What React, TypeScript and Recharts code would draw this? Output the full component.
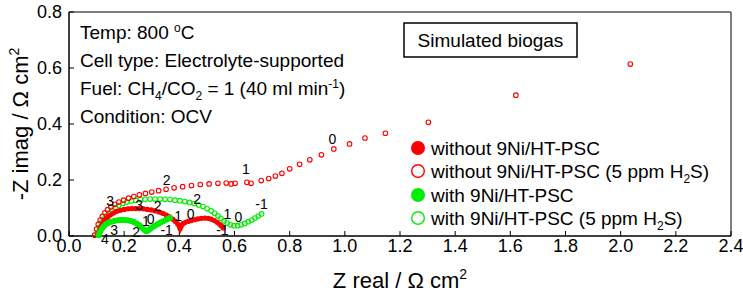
import React from 'react';
import { ScatterChart, Scatter, XAxis, YAxis, ReferenceArea, ReferenceDot, Customized } from 'recharts';

const FONT = '"Liberation Sans", Arial, sans-serif';
const RED = '#ff0000';
const GREEN = '#00ee00';

const xTicks = [0, 0.2, 0.4, 0.6, 0.8, 1.0, 1.2, 1.4, 1.6, 1.8, 2.0, 2.2, 2.4];
const yTicks = [0, 0.2, 0.4, 0.6, 0.8];

// without 9Ni/HT-PSC (filled red)
const redFilled: [number, number][] = [
  [0.105, 0.005], [0.110, 0.020], [0.116, 0.034], [0.123, 0.047], [0.131, 0.058], [0.140, 0.067],
  [0.150, 0.075], [0.161, 0.082], [0.173, 0.088], [0.186, 0.092], [0.200, 0.095], [0.214, 0.097],
  [0.228, 0.098], [0.242, 0.098], [0.256, 0.098], [0.270, 0.097], [0.284, 0.095], [0.298, 0.093],
  [0.312, 0.090], [0.326, 0.086], [0.340, 0.081], [0.353, 0.075], [0.365, 0.068], [0.376, 0.060],
  [0.386, 0.052], [0.394, 0.043], [0.400, 0.034], [0.403, 0.026], [0.407, 0.036], [0.413, 0.044],
  [0.422, 0.049], [0.432, 0.052], [0.443, 0.055], [0.455, 0.058], [0.467, 0.061], [0.480, 0.063],
  [0.493, 0.064], [0.505, 0.063], [0.516, 0.060], [0.527, 0.055], [0.537, 0.049], [0.546, 0.042],
  [0.553, 0.036], [0.559, 0.029],
];

// without 9Ni/HT-PSC (5 ppm H2S) (open red)
const redOpen: [number, number][] = [
  [0.093, 0.003], [0.100, 0.025], [0.106, 0.042], [0.113, 0.057], [0.121, 0.070], [0.130, 0.083],
  [0.140, 0.094], [0.152, 0.104], [0.166, 0.113], [0.181, 0.121], [0.198, 0.128], [0.216, 0.135],
  [0.235, 0.141], [0.255, 0.147], [0.277, 0.152], [0.300, 0.157], [0.325, 0.162], [0.352, 0.167],
  [0.381, 0.172], [0.412, 0.176], [0.444, 0.180], [0.476, 0.184], [0.508, 0.186], [0.540, 0.188],
  [0.570, 0.189], [0.588, 0.186], [0.602, 0.188], [0.645, 0.192], [0.660, 0.188], [0.697, 0.198],
  [0.724, 0.205], [0.748, 0.214], [0.772, 0.224], [0.800, 0.240], [0.836, 0.256], [0.873, 0.272],
  [0.915, 0.290], [0.960, 0.311], [1.017, 0.329], [1.073, 0.350], [1.147, 0.367], [1.303, 0.406],
  [1.620, 0.503], [2.035, 0.614],
];

// with 9Ni/HT-PSC (filled green)
const greenFilled: [number, number][] = [
  [0.108, 0.003], [0.113, 0.015], [0.119, 0.026], [0.126, 0.035], [0.134, 0.042], [0.143, 0.047],
  [0.153, 0.051], [0.164, 0.054], [0.176, 0.056], [0.188, 0.057], [0.200, 0.057], [0.212, 0.056],
  [0.224, 0.054], [0.235, 0.050], [0.245, 0.045], [0.254, 0.039], [0.262, 0.032], [0.270, 0.025],
  [0.277, 0.019], [0.282, 0.017], [0.288, 0.021], [0.295, 0.026], [0.303, 0.032], [0.312, 0.037],
  [0.322, 0.043], [0.332, 0.048], [0.342, 0.053], [0.352, 0.058], [0.360, 0.062], [0.366, 0.064],
];

// with 9Ni/HT-PSC (5 ppm H2S) (open green)
const greenOpen: [number, number][] = [
  [0.103, 0.010], [0.110, 0.030], [0.117, 0.047], [0.126, 0.060], [0.135, 0.071], [0.145, 0.082],
  [0.156, 0.092], [0.168, 0.101], [0.181, 0.109], [0.195, 0.116], [0.210, 0.121], [0.226, 0.125],
  [0.242, 0.128], [0.259, 0.130], [0.276, 0.131], [0.294, 0.132], [0.312, 0.132], [0.330, 0.132],
  [0.348, 0.131], [0.366, 0.130], [0.384, 0.128], [0.402, 0.126], [0.420, 0.123], [0.437, 0.120],
  [0.454, 0.116], [0.470, 0.111], [0.486, 0.105], [0.501, 0.098], [0.515, 0.090], [0.528, 0.081],
  [0.540, 0.072], [0.551, 0.063], [0.562, 0.054], [0.573, 0.046], [0.585, 0.040], [0.598, 0.037],
  [0.611, 0.037], [0.624, 0.040], [0.637, 0.045], [0.650, 0.051], [0.662, 0.057], [0.674, 0.064],
  [0.686, 0.071], [0.698, 0.079],
];

// frequency decade labels (log f)
const decadeLabels: [number, number, string][] = [
  [0.149, 0.124, '3'], [0.354, 0.199, '2'], [0.641, 0.238, '1'], [0.955, 0.345, '0'],
  [0.254, 0.110, '3'], [0.321, 0.106, '2'], [0.396, 0.071, '1'], [0.441, 0.078, '0'], [0.556, 0.021, '-1'],
  [0.465, 0.133, '2'], [0.574, 0.079, '1'], [0.614, 0.069, '0'], [0.698, 0.113, '-1'],
  [0.130, -0.012, '4'], [0.164, 0.023, '3'], [0.243, 0.015, '2'], [0.279, 0.055, '1'], [0.296, 0.059, '0'], [0.354, 0.023, '-1'],
];

const infoLines = ['Temp', 'Cell type: Electrolyte-supported', 'Fuel', 'Condition: OCV'];
const legendNames = [
  'without 9Ni/HT-PSC',
  'without 9Ni/HT-PSC (5 ppm H2S)',
  'with 9Ni/HT-PSC',
  'with 9Ni/HT-PSC (5 ppm H2S)',
];

const toPts = (a: [number, number][]) => a.map(([x, y]) => ({ x, y }));

const OpenCircle = (color: string) => (p: any) => (
  <circle cx={p.cx} cy={p.cy} r={2.3} fill="none" stroke={color} strokeWidth={1.1} />
);
const FilledCircle = (color: string, r: number) => (p: any) => (
  <circle cx={p.cx} cy={p.cy} r={r} fill={color} stroke="none" />
);

const H2S = () => (
  <>
    {' (5 ppm H'}
    <tspan fontSize={12} dy={5}>2</tspan>
    <tspan dy={-5}>S)</tspan>
  </>
);

const Annotations = () => {
  const fs = 19;
  const lx = 80;
  const ly = [39, 67, 95, 123];
  const legX = 418;
  const legY = [148, 171, 195, 218];
  return (
    <g fontFamily={FONT} fill="#000">
      <text x={lx} y={ly[0]} fontSize={fs}>
        {'Temp: 800 '}
        <tspan fontSize={12} dy={-7}>o</tspan>
        <tspan dy={7}>C</tspan>
      </text>
      <text x={lx} y={ly[1]} fontSize={fs}>{infoLines[1]}</text>
      <text x={lx} y={ly[2]} fontSize={fs}>
        {'Fuel: CH'}
        <tspan fontSize={12} dy={5}>4</tspan>
        <tspan dy={-5}>/CO</tspan>
        <tspan fontSize={12} dy={5}>2</tspan>
        <tspan dy={-5}>{' = 1 (40 ml min'}</tspan>
        <tspan fontSize={12} dy={-7}>-1</tspan>
        <tspan dy={7}>)</tspan>
      </text>
      <text x={lx} y={ly[3]} fontSize={fs}>{infoLines[3]}</text>

      <rect x={404} y={23} width={173} height={34} fill="#fff" stroke="#000" strokeWidth={1.5} />
      <text x={490.5} y={46.5} fontSize={fs} textAnchor="middle">Simulated biogas</text>

      <circle cx={legX} cy={legY[0]} r={7} fill={RED} />
      <circle cx={legX} cy={legY[1]} r={6.3} fill="#fff" stroke={RED} strokeWidth={1.4} />
      <circle cx={legX} cy={legY[2]} r={7} fill={GREEN} />
      <circle cx={legX} cy={legY[3]} r={6.3} fill="#fff" stroke={GREEN} strokeWidth={1.4} />
      <text x={431} y={legY[0] + 7} fontSize={fs}>{legendNames[0]}</text>
      <text x={431} y={legY[1] + 7} fontSize={fs}>without 9Ni/HT-PSC<H2S /></text>
      <text x={431} y={legY[2] + 7} fontSize={fs}>{legendNames[2]}</text>
      <text x={431} y={legY[3] + 7} fontSize={fs}>with 9Ni/HT-PSC<H2S /></text>
    </g>
  );
};

const XTitle = (props: any) => {
  const vb = props.viewBox || {};
  return (
    <text x={vb.x + vb.width / 2} y={vb.y + 52} textAnchor="middle" fontSize={22} fontFamily={FONT} fill="#000">
      {'Z real / Ω cm'}
      <tspan fontSize={14} dy={-9}>2</tspan>
    </text>
  );
};

const YTitle = (props: any) => {
  const vb = props.viewBox || {};
  const cx = 28;
  const cy = vb.y + vb.height / 2;
  return (
    <text x={cx} y={cy} transform={`rotate(-90 ${cx} ${cy})`} textAnchor="middle" fontSize={22} fontFamily={FONT} fill="#000">
      {'-Z imag / Ω cm'}
      <tspan fontSize={14} dy={-9}>2</tspan>
    </text>
  );
};

const DecadeLabel = (text: string) => (p: any) => {
  const vb = p.viewBox || {};
  return (
    <text x={vb.x} y={vb.y} dy={5} textAnchor="middle" fontSize={14} fontFamily={FONT} fill="#000">
      {text}
    </text>
  );
};

export default function App() {
  return (
    <div style={{ position: 'absolute', left: 0, top: 0, width: 743, height: 293, background: '#fff' }}>
      <ScatterChart width={743} height={293} margin={{ top: 12, right: 12, bottom: 0, left: 0 }}>
        <XAxis
          dataKey="x"
          type="number"
          domain={[0, 2.4]}
          ticks={xTicks}
          interval={0}
          tickFormatter={(v: number) => v.toFixed(1)}
          tickSize={-5}
          tickMargin={8}
          height={57}
          axisLine={{ stroke: '#000' }}
          tickLine={{ stroke: '#000' }}
          tick={{ fill: '#000', fontSize: 18, fontFamily: FONT }}
          label={<XTitle />}
        />
        <YAxis
          dataKey="y"
          type="number"
          domain={[0, 0.8]}
          ticks={yTicks}
          interval={0}
          tickFormatter={(v: number) => v.toFixed(1)}
          tickSize={-5}
          tickMargin={12}
          width={69}
          axisLine={{ stroke: '#000' }}
          tickLine={{ stroke: '#000' }}
          tick={{ fill: '#000', fontSize: 18, fontFamily: FONT }}
          label={<YTitle />}
        />
        <ReferenceArea x1={0} x2={2.4} y1={0} y2={0.8} fill="none" stroke="#000" strokeWidth={1} ifOverflow="visible" />
        <Scatter
          name={legendNames[3]}
          data={toPts(greenOpen)}
          shape={OpenCircle(GREEN)}
          isAnimationActive={false}
        />
        <Scatter
          name={legendNames[1]}
          data={toPts(redOpen)}
          shape={OpenCircle(RED)}
          isAnimationActive={false}
        />
        <Scatter
          name={legendNames[0]}
          data={toPts(redFilled)}
          shape={FilledCircle(RED, 2.6)}
          line={{ stroke: RED, strokeWidth: 4 }}
          isAnimationActive={false}
        />
        <Scatter
          name={legendNames[2]}
          data={toPts(greenFilled)}
          shape={FilledCircle(GREEN, 3)}
          line={{ stroke: GREEN, strokeWidth: 5 }}
          isAnimationActive={false}
        />
        {decadeLabels.map(([x, y, t], i) => (
          <ReferenceDot
            key={i}
            x={x}
            y={y}
            r={0}
            fill="none"
            stroke="none"
            ifOverflow="visible"
            label={DecadeLabel(t)}
          />
        ))}
        <Customized component={<Annotations />} />
      </ScatterChart>
    </div>
  );
}
